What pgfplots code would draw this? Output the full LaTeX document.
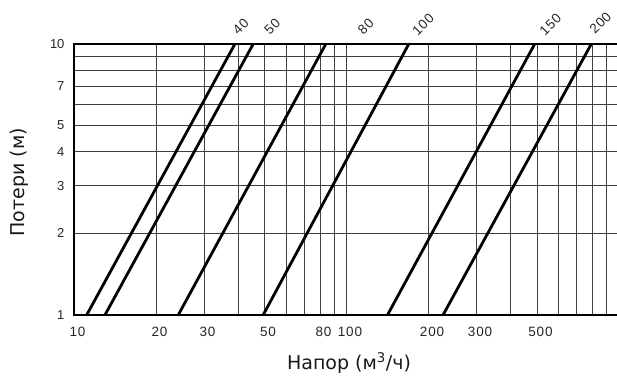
\documentclass[border=0pt]{standalone}
\usepackage{pgfplots}
\pgfplotsset{compat=1.18}
\usepackage{fontspec}
\setmainfont{Liberation Sans}
\newfontfamily\labelfont{DejaVu Sans}
\newfontfamily\wideticks[LetterSpace=6]{Liberation Sans}
\begin{document}
\begin{tikzpicture}[x=1pt,y=1pt]
\begin{loglogaxis}[
  at={(0,0)}, anchor=south west,
  scale only axis, width=545pt, height=271pt,
  xmin=10, xmax=1000, ymin=1, ymax=10,
  xtick={10,20,30,50,80,100,200,300,500},
  xticklabels={10,20,30,50,80,100,200,300,500},
  ytick={1,2,3,4,5,7,10},
  yticklabels={1,2,3,4,5,7,10},
  minor xtick={20,30,40,50,60,70,80,90,100,200,300,400,500,600,700,800,900},
  minor ytick={2,3,4,5,6,7,8,9},
  grid=both,
  major grid style={black!75, line width=0.8pt},
  minor grid style={black!75, line width=0.8pt},
  major tick length=0pt, minor tick length=0pt,
  axis line style={line width=1.6pt},
  yticklabel style={font=\fontsize{13}{14}\selectfont, text=black!85, xshift=-6pt},
  xticklabel style={font=\wideticks\fontsize{13.5}{14}\selectfont, text=black!85, yshift=-9pt, xshift=3.5pt},
  xlabel={Напор (м\textsuperscript{3}/ч)},
  ylabel={Потери (м)},
  label style={font=\labelfont\fontsize{19}{21}\selectfont, text=black!90},
  xlabel style={at={(axis description cs:0.5046,-0.1993)}, anchor=base},
  ylabel style={at={(axis description cs:-0.1009,0.49)}, anchor=center},
  clip mode=individual,
]
\addplot[line width=2.8pt] coordinates {(11.13,1) (38.95,10)};
\addplot[line width=2.8pt] coordinates {(12.99,1) (45.45,10)};
\addplot[line width=2.8pt] coordinates {(24.13,1) (83.95,10)};
\addplot[line width=2.8pt] coordinates {(49.45,1) (169.2,10)};
\addplot[line width=2.8pt] coordinates {(141.4,1) (490.4,10)};
\addplot[line width=2.8pt] coordinates {(226.1,1) (791.3,10)};
\begin{scope}[every node/.style={rotate=45, anchor=center, inner sep=0pt, font=\wideticks\fontsize{13.5}{14}\selectfont, text=black!85}]
\node at (axis cs:40.9,11.61) {40};
\node at (axis cs:53.4,11.61) {50};
\node at (axis cs:117.7,11.61) {80};
\node at (axis cs:190.9,11.79) {100};
\node at (axis cs:560.3,11.79) {150};
\node at (axis cs:854.6,11.96) {200};
\end{scope}
\end{loglogaxis}
\pgfresetboundingbox
\useasboundingbox (-74,-61) rectangle (543,315);
\end{tikzpicture}
\end{document}
